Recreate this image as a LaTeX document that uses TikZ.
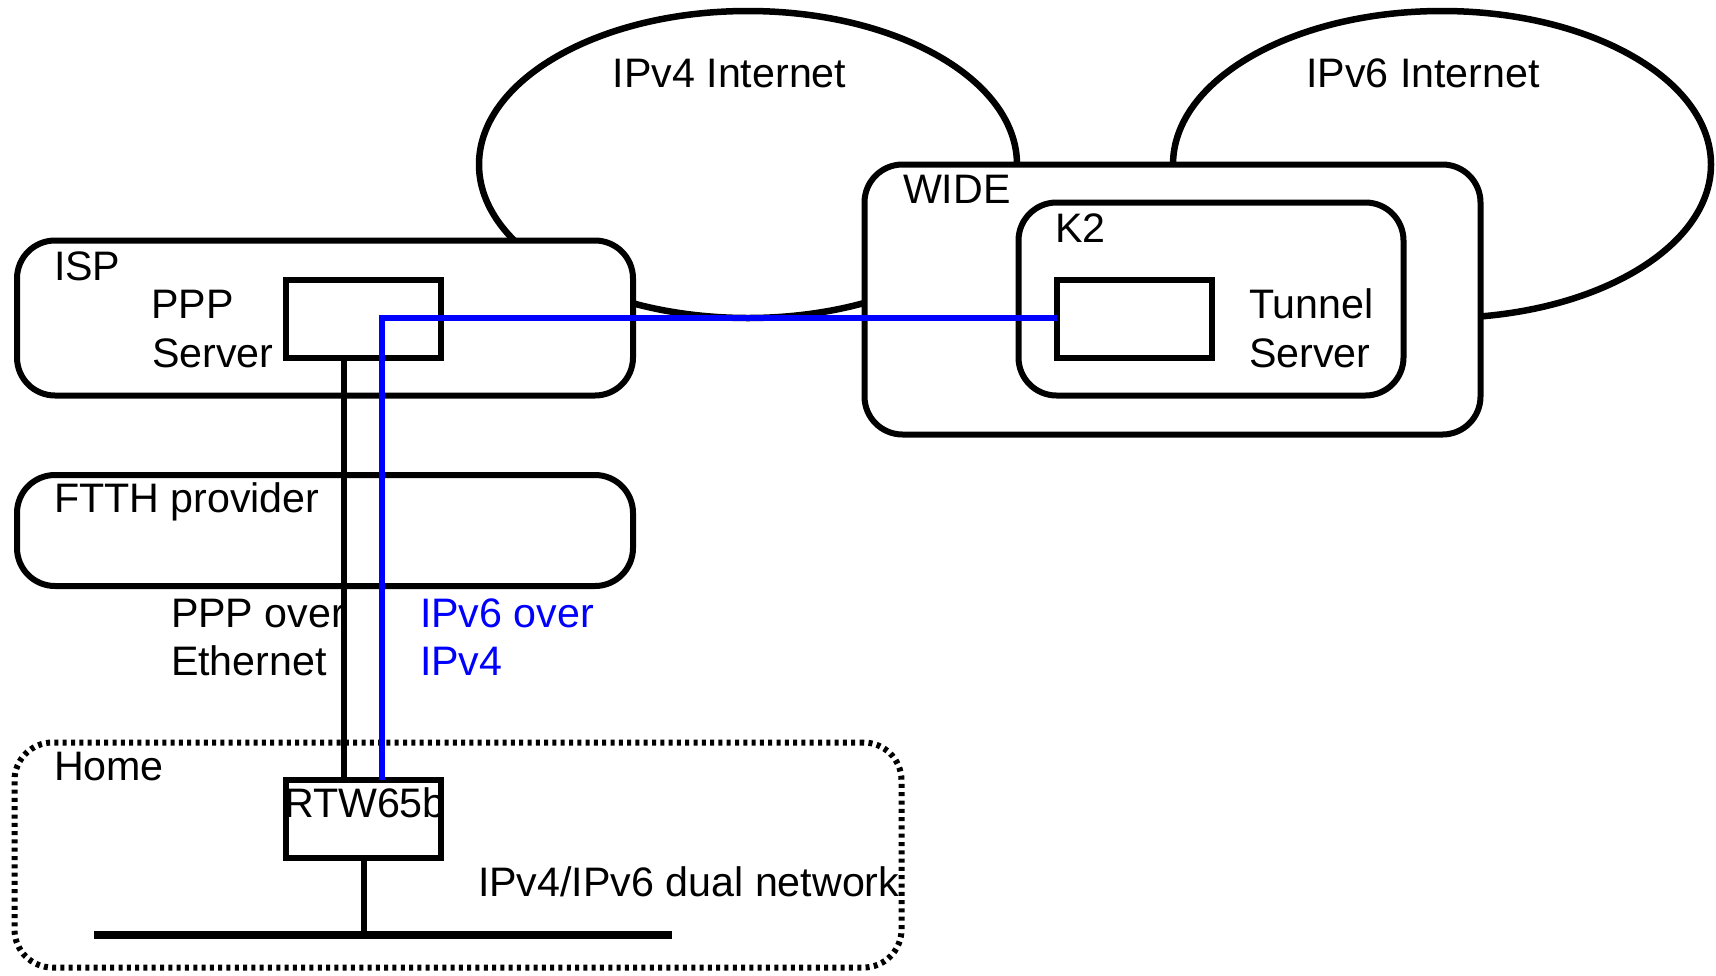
\documentclass[tikz,border=0pt]{standalone}
\usepackage{fontspec}
\setmainfont{Liberation Sans}
\usetikzlibrary{shapes.geometric}
\begin{document}
\begin{tikzpicture}[x=1pt,y=-1pt,
  every node/.style={inner sep=0pt, outer sep=0pt},
  netcloud/.style={ellipse, draw, line width=6.5pt, minimum width=538pt, minimum height=307pt},
  netbox/.style={rectangle, draw, fill=white, line width=6pt, rounded corners=38pt},
  homebox/.style={rectangle, draw, line width=6pt, rounded corners=38pt, dash pattern=on 4pt off 4.3pt},
  devbox/.style={rectangle, draw, fill=white, line width=6pt},
  lbl/.style={anchor=base west, font=\fontsize{41.2}{48}\selectfont},
  linkline/.style={line width=6pt},
  busline/.style={line width=7.5pt},
  tunline/.style={line width=6.5pt, draw=blue},
]
\useasboundingbox (0,0) rectangle (1716,975);
% clouds
\node[netcloud] (v4) at (748,164.5) {};
\node[netcloud] (v6) at (1442,164.5) {};
% domains
\node[netbox, minimum width=616pt, minimum height=155pt] (isp) at (325,318) {};
\node[netbox, minimum width=616pt, minimum height=111pt] (ftth) at (325,530.5) {};
\node[netbox, minimum width=616pt, minimum height=270pt] (wide) at (1172.5,299.5) {};
\node[netbox, minimum width=385pt, minimum height=193pt] (k2) at (1211,299) {};
\node[homebox, minimum width=887pt, minimum height=225pt] (home) at (458,855) {};
% devices
\node[devbox, minimum width=155pt, minimum height=78pt] (ppp) at (363.5,318.5) {};
\node[devbox, minimum width=155pt, minimum height=78pt] (tun) at (1134,318.5) {};
\node[devbox, minimum width=155pt, minimum height=78pt] (rtw) at (363.5,818.5) {};
% links
\coordinate (pppdown) at (344,0);
\draw[linkline] (ppp.south -| pppdown) -- (rtw.north -| pppdown);
\coordinate (busL) at (94,935);
\coordinate (busR) at (672,935);
\draw[busline] (busL) -- (busR);
\draw[linkline] (rtw.south) -- (rtw.south |- busL);
\coordinate (bend) at (382,318);
\draw[tunline] (rtw.north -| bend) -- (bend) -- (tun.west |- bend);
% labels
\node[lbl, anchor=base] (v4t) at (729.5,87) {IPv4 Internet};
\node[lbl, anchor=base] (v6t) at (1423,87) {IPv6 Internet};
\node[lbl] (ispt) at (54,280) {ISP};
\node[lbl] (pppt1) at (151.5,318) {PPP};
\node[lbl] (pppt2) at (152,367) {Server};
\node[lbl] (ftht) at (54,512) {FTTH provider};
\node[lbl] (pppoe1) at (171,627) {PPP over};
\node[lbl] (pppoe2) at (171,675) {Ethernet};
\node[lbl, text=blue] (v6o1) at (420,627) {IPv6 over};
\node[lbl, text=blue] (v6o2) at (420,675) {IPv4};
\node[lbl] (widet) at (903,203) {WIDE};
\node[lbl] (k2t) at (1055,242) {K2};
\node[lbl] (tunt1) at (1249,318) {Tunnel};
\node[lbl] (tunt2) at (1249,367) {Server};
\node[lbl] (homet) at (54,780) {Home};
\node[lbl] (rtwt) at (284,817) {RTW65b};
\node[lbl] (dualt) at (478,896) {IPv4/IPv6 dual network};
\end{tikzpicture}
\end{document}
